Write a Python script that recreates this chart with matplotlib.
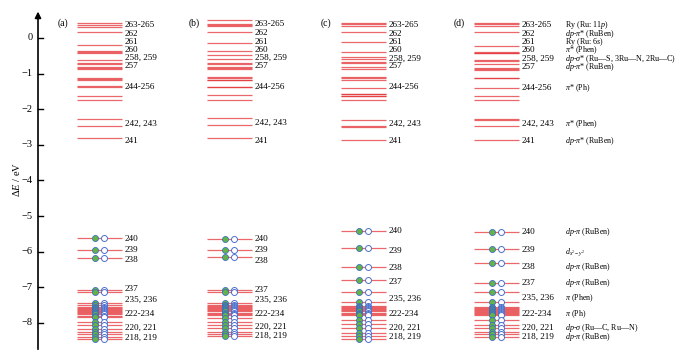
import matplotlib
matplotlib.use("Agg")
import matplotlib.pyplot as plt

plt.rcParams['font.family'] = ['Liberation Serif', 'DejaVu Serif']
plt.rcParams['mathtext.fontset'] = 'custom'
plt.rcParams['mathtext.rm'] = 'Liberation Serif'
plt.rcParams['mathtext.it'] = 'Liberation Serif:italic'

# ---------------- data (energies in eV) ----------------
panel_names = ["(a)", "(b)", "(c)", "(d)"]

unocc_a = [0.41, 0.37, 0.32, 0.16, -0.20, -0.37, -0.40, -0.43, -0.62, -0.70, -0.72,
           -0.82, -0.84, -0.87, -1.11, -1.15, -1.17, -1.36, -1.39, -1.62, -1.74,
           -2.27, -2.47, -2.82]
unocc_b = [0.50, 0.39, 0.37, 0.35, 0.16, -0.15, -0.37, -0.48, -0.59, -0.70, -0.72,
           -0.82, -0.84, -0.87, -1.10, -1.12, -1.17, -1.19, -1.37, -1.39, -1.61,
           -1.74, -2.26, -2.45, -2.81]
unocc_c = [0.43, 0.39, 0.35, 0.16, -0.12, -0.40, -0.54, -0.59, -0.68, -0.70, -0.81,
           -0.86, -1.10, -1.12, -1.18, -1.40, -1.56, -1.58, -1.62, -1.64, -1.74,
           -2.31, -2.48, -2.50, -2.87]
unocc_d = [0.42, 0.40, 0.35, 0.16, -0.22, -0.39, -0.41, -0.43, -0.63, -0.65, -0.74,
           -0.84, -0.86, -0.90, -1.11, -1.13, -1.40, -1.62, -1.74, -2.27, -2.29,
           -2.47, -2.87]

occ_a = [-5.63, -5.94, -6.19, -7.08, -7.13, -7.45, -7.50, -7.55, -7.58, -7.61, -7.64,
         -7.67, -7.70, -7.73, -7.76, -7.80, -7.83, -7.97, -8.06, -8.18, -8.25, -8.31,
         -8.39, -8.44]
occ_b = [-5.64, -5.94, -6.16, -7.08, -7.13, -7.45, -7.50, -7.53, -7.56, -7.59, -7.62,
         -7.65, -7.68, -7.71, -7.74, -7.78, -7.87, -7.97, -8.06, -8.15, -8.25, -8.31,
         -8.37]
occ_c = [-5.41, -5.89, -6.44, -6.80, -7.13, -7.42, -7.53, -7.56, -7.59, -7.62, -7.65,
         -7.68, -7.72, -7.75, -7.78, -7.92, -8.03, -8.15, -8.28, -8.37, -8.44]
occ_d = [-5.46, -5.93, -6.33, -6.89, -7.13, -7.42, -7.55, -7.58, -7.61, -7.64, -7.67,
         -7.70, -7.73, -7.76, -7.78, -7.92, -8.06, -8.15, -8.25, -8.31, -8.39]

upper_labels = ["263-265", "262", "261", "260", "258, 259", "257", "244-256",
                "242, 243", "241"]
lower_labels = ["240", "239", "238", "237", "235, 236", "222-234", "220, 221",
                "218, 219"]

upper_pos_a = [0.365, 0.12, -0.12, -0.35, -0.57, -0.795, -1.385, -2.40, -2.89]
upper_pos_b = [0.39, 0.14, -0.10, -0.34, -0.57, -0.79, -1.385, -2.39, -2.89]
upper_pos_c = [0.365, 0.12, -0.12, -0.35, -0.58, -0.795, -1.385, -2.41, -2.89]
upper_pos_d = [0.365, 0.12, -0.12, -0.35, -0.58, -0.81, -1.40, -2.41, -2.89]

lower_pos_a = [-5.65, -5.96, -6.24, -7.06, -7.34, -7.76, -8.13, -8.41]
lower_pos_b = [-5.64, -5.96, -6.25, -7.08, -7.34, -7.75, -8.12, -8.37]
lower_pos_c = [-5.42, -5.97, -6.46, -6.85, -7.33, -7.76, -8.15, -8.40]
lower_pos_d = [-5.46, -5.96, -6.42, -6.89, -7.31, -7.76, -8.14, -8.39]

desc_upper = ["Ry (Ru: 11$p$)", "$dp$-$\\pi$* (RuBen)", "Ry (Ru: 6$s$)",
              "$\\pi$* (Phen)", "$dp$-$\\sigma$* (Ru\u2014S, 3Ru\u2014N, 2Ru\u2014C)",
              "$dp$-$\\pi$* (RuBen)", "$\\pi$* (Ph)", "$\\pi$* (Phen)",
              "$dp$-$\\pi$* (RuBen)"]
desc_lower = ["$dp$-$\\pi$ (RuBen)", "$d_{x^2-y^2}$", "$dp$-$\\pi$ (RuBen)",
              "$dp$-$\\pi$ (RuBen)", "$\\pi$ (Phen)", "$\\pi$ (Ph)",
              "$dp$-$\\sigma$ (Ru\u2014C, Ru\u2014N)", "$dp$-$\\pi$ (RuBen)"]
desc_lower_pos = [-5.46, -6.00, -6.43, -6.87, -7.30, -7.76, -8.14, -8.40]

yticks = [0, -1, -2, -3, -4, -5, -6, -7, -8]

# ---------------- layout ----------------
panels = [
    (77, unocc_a, occ_a, upper_pos_a, lower_pos_a),
    (207, unocc_b, occ_b, upper_pos_b, lower_pos_b),
    (341, unocc_c, occ_c, upper_pos_c, lower_pos_c),
    (474, unocc_d, occ_d, upper_pos_d, lower_pos_d),
]
panel_label_x = [63, 194, 326, 459]
line_w = 45
red = '#e4363a'

fig = plt.figure(figsize=(6.9, 3.56), dpi=100)
ax = fig.add_axes([0, 0, 1, 1])
ax.set_xlim(0, 690)
ax.set_ylim(-8.93, 1.067)
ax.axis('off')

# energy axis
ax.plot([38, 38], [-8.73, 0.6], color='black', lw=1.2)
ax.annotate('', xy=(38, 0.82), xytext=(38, 0.5),
            arrowprops=dict(arrowstyle='-|>', color='black', lw=1.2,
                            mutation_scale=9))
for t in yticks:
    ax.plot([38, 43], [t, t], color='black', lw=1.0)
    ax.text(33, t, str(t).replace('-', '\u2212'), ha='right', va='center', fontsize=7.5)
ax.text(17, -3.96, '$\\Delta E$ / eV', rotation=90, ha='center', va='center',
        fontsize=7.5)

for (x0, unocc, occ, upos, lpos), name, lx in zip(panels, panel_names, panel_label_x):
    ax.hlines(unocc, x0, x0 + line_w, color=red, lw=0.9, alpha=0.75)
    ax.hlines(occ, x0, x0 + line_w, color=red, lw=0.9, alpha=0.75)
    ax.plot([x0 + 17.5] * len(occ), occ, 'o', ms=4.3, mfc='#62b446', mec='#3f6cc0',
            mew=0.6, ls='none')
    ax.plot([x0 + 27] * len(occ), occ, 'o', ms=4.3, mfc='white', mec='#4b70cc',
            mew=0.7, ls='none')
    for lab, p in zip(upper_labels, upos):
        ax.text(x0 + line_w + 3, p, lab, ha='left', va='center', fontsize=6.6)
    for lab, p in zip(lower_labels, lpos):
        ax.text(x0 + line_w + 3, p, lab, ha='left', va='center', fontsize=6.6)
    ax.text(lx, 0.42, name, ha='center', va='center', fontsize=7)

for lab, p in zip(desc_upper, upper_pos_d):
    ax.text(565, p, lab, ha='left', va='center', fontsize=5.8)
for lab, p in zip(desc_lower, desc_lower_pos):
    ax.text(565, p, lab, ha='left', va='center', fontsize=5.8)

fig.savefig('out.png', dpi=100)
